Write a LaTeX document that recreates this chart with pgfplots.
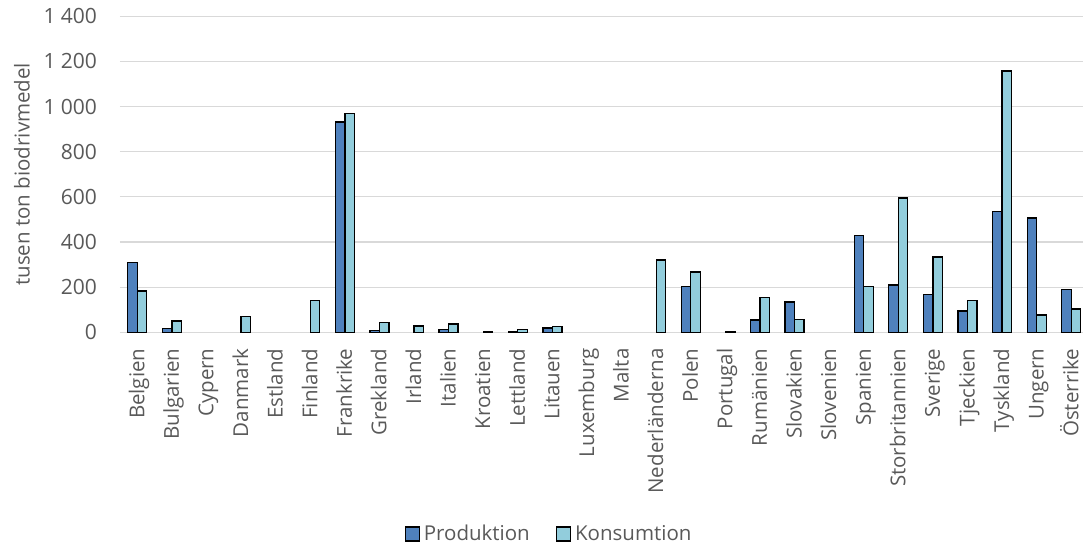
\documentclass[border=0pt]{standalone}
\usepackage{pgfplots}
\usepackage{pgfplotstable}
\pgfplotsset{compat=1.18}
\usepackage{fontspec}
\setmainfont{Open Sans}

\definecolor{prodblue}{HTML}{4F81BD}
\definecolor{konsaqua}{HTML}{92CDDC}
\definecolor{txtgray}{HTML}{595959}
\definecolor{gridgray}{HTML}{D9D9D9}

% biodrivmedel per land, tusen ton (nan = inget värde)
\pgfplotstableread{
x prod kons
0 308 183
1 18 50
2 nan nan
3 nan 69
4 nan nan
5 nan 140
6 932 970
7 9 43
8 nan 28
9 12 37
10 nan 2
11 1 12
12 19 25
13 nan nan
14 nan nan
15 nan 320
16 202 267
17 nan 5
18 54 153
19 134 57
20 nan nan
21 428 204
22 210 595
23 168 334
24 94 142
25 534 1157
26 506 77
27 189 103
}\biodata

\begin{document}
\begin{tikzpicture}
\useasboundingbox (-120pt,-213.7pt) rectangle (963pt,332.3pt);
\begin{axis}[
  at={(0pt,0pt)}, anchor=south west,
  scale only axis,
  width=968.6pt, height=316pt,
  xmin=-0.5, xmax=27.5,
  ymin=0, ymax=1400,
  ytick={0,200,...,1400},
  xtick={0,...,27},
  xticklabels={Belgien,Bulgarien,Cypern,Danmark,Estland,Finland,Frankrike,Grekland,Irland,Italien,Kroatien,Lettland,Litauen,Luxemburg,Malta,Nederländerna,Polen,Portugal,Rumänien,Slovakien,Slovenien,Spanien,Storbritannien,Sverige,Tjeckien,Tyskland,Ungern,Österrike},
  axis line style={draw=none},
  major tick length=0pt,
  ymajorgrids,
  major grid style={gridgray, line width=1.2pt},
  tick label style={font=\fontsize{20.5}{24}\selectfont, text=txtgray},
  yticklabel style={font=\fontsize{21}{24}\selectfont},
  /pgf/number format/assume math mode=true,
  /pgf/number format/1000 sep={\hspace{0.25em}},
  yticklabel style={anchor=east, inner sep=0pt, xshift=-23pt},
  xticklabel style={inner sep=0pt, yshift=-16pt, xshift=7pt, rotate=90, anchor=base east},
  every axis y label/.style={at={(rel axis cs:0,0.5)}, xshift=-98pt, rotate=90, anchor=center},
  ylabel={tusen ton biodrivmedel},
  label style={font=\fontsize{20.5}{24}\selectfont, text=txtgray},
  ybar, bar width=9.5pt, bar shift=0pt,
  legend columns=2,
  legend style={at={(rel axis cs:0.4429,-0.638)}, anchor=center, draw=none, fill=none,
    font=\fontsize{20.5}{24}\selectfont, text=txtgray, inner sep=0pt,
    /tikz/every odd column/.append style={column sep=2pt},
    /tikz/every even column/.append style={column sep=24pt}},
  legend image code/.code={\draw[#1, line width=1.3pt] (0pt,-7pt) rectangle (14pt,7pt);},
  unbounded coords=discard,
]
\addplot[fill=prodblue, draw=black, line width=1.3pt, bar shift=-4.75pt] table[x=x, y=prod] {\biodata};
\addlegendentry{Produktion}
\addplot[fill=konsaqua, draw=black, line width=1.3pt, bar shift=4.75pt] table[x=x, y=kons] {\biodata};
\addlegendentry{Konsumtion}
\end{axis}
\end{tikzpicture}
\end{document}
